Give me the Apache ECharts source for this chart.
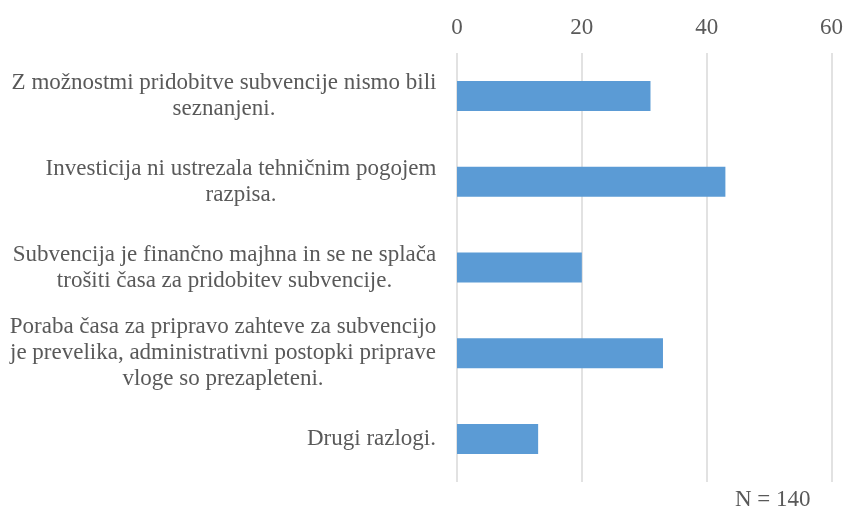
<!DOCTYPE html>
<html>
<head>
<meta charset="utf-8">
<script src="https://cdn.jsdelivr.net/npm/echarts@6/dist/echarts.min.js"></script>
<style>
  html, body { margin: 0; padding: 0; background: #ffffff; }
  #chart { width: 846px; height: 511px; }
</style>
</head>
<body>
<div id="chart"></div>
<script>
// Reasons for not applying for subsidies (number of answers)
const categories = [
  'Z možnostmi pridobitve subvencije nismo bili\nseznanjeni.',
  'Investicija ni ustrezala tehničnim pogojem\nrazpisa.',
  'Subvencija je finančno majhna in se ne splača\ntrošiti časa za pridobitev subvencije.',
  'Poraba časa za pripravo zahteve za subvencijo\nje prevelika, administrativni postopki priprave\nvloge so prezapleteni.',
  'Drugi razlogi.'
];
const counts = [31, 43, 20, 33, 13];
const axisTicks = [0, 20, 40, 60];
const noteText = 'N = 140';

const FONT = '"Liberation Serif", "Times New Roman", serif';
const FONT_SIZE = 23;
const TEXT_COLOR = '#595959';

// Measure each label's widest line so its lines can be centred within the block
const ctx = document.createElement('canvas').getContext('2d');
ctx.font = FONT_SIZE + 'px ' + FONT;
const rich = {};
categories.forEach(function (c, i) {
  const w = Math.max.apply(null, c.split('\n').map(function (l) { return ctx.measureText(l).width; }));
  rich['l' + i] = {
    width: Math.ceil(w) + 1,
    align: 'center',
    fontFamily: FONT,
    fontSize: FONT_SIZE,
    color: TEXT_COLOR,
    lineHeight: 26
  };
});

const chart = echarts.init(document.getElementById('chart'), null, { renderer: 'canvas' });
chart.setOption({
  animation: false,
  backgroundColor: '#ffffff',
  grid: { left: 457, right: 13, top: 53, bottom: 29, containLabel: false },
  xAxis: {
    type: 'value',
    position: 'top',
    min: axisTicks[0],
    max: axisTicks[axisTicks.length - 1],
    interval: axisTicks[1] - axisTicks[0],
    axisLine: { show: false },
    axisTick: { show: false },
    axisLabel: {
      margin: 14,
      fontFamily: FONT,
      fontSize: FONT_SIZE,
      color: TEXT_COLOR
    },
    splitLine: { show: true, lineStyle: { color: '#d9d9d9', width: 1.5 } }
  },
  yAxis: {
    type: 'category',
    inverse: true,
    data: categories,
    axisLine: { show: false },
    axisTick: { show: false },
    axisLabel: {
      margin: 20,
      interval: 0,
      formatter: function (value, idx) {
        return value.split('\n').map(function (l) { return '{l' + idx + '|' + l + '}'; }).join('\n');
      },
      rich: rich
    }
  },
  series: [{
    type: 'bar',
    data: counts,
    barWidth: 30,
    itemStyle: { color: '#5b9bd5' },
    label: { show: false }
  }],
  graphic: [{
    type: 'text',
    left: 735,
    top: 488,
    style: {
      text: noteText,
      fontFamily: FONT,
      fontSize: FONT_SIZE,
      fill: TEXT_COLOR
    }
  }]
});
</script>
</body>
</html>
